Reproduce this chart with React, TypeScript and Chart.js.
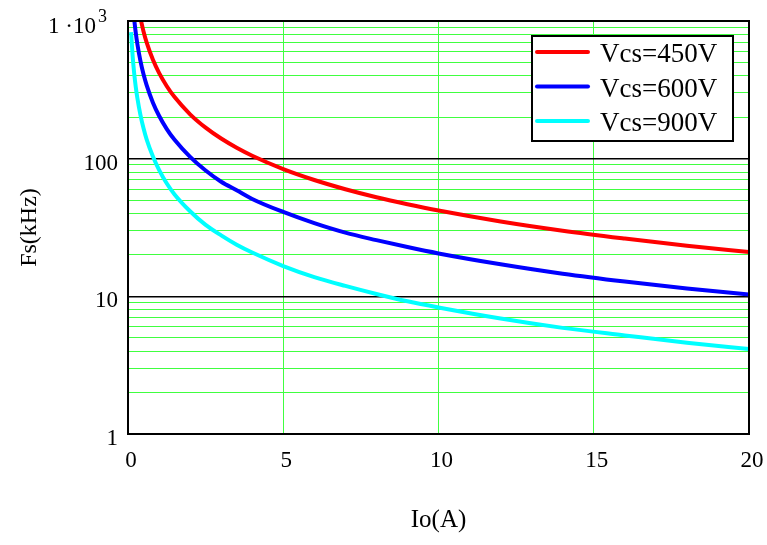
import React, { useEffect, useRef } from 'react';
import { Chart, registerables } from 'chart.js';

Chart.register(...registerables);

// Output current Io (A)
const ioValues = [0.1, 0.15, 0.2, 0.25, 0.3, 0.4, 0.5, 0.6, 0.8, 1, 1.25, 1.5, 2, 2.5, 3, 3.5, 4, 5, 6, 7, 8, 9, 10, 12, 14, 16, 18, 20];
// Switching frequency Fs (kHz)
const fs450 = [null, null, null, null, null, 1050, 840, 700, 525, 420, 336, 280, 210, 168, 140, 120, 105, 84, 70, 60, 52.5, 46.7, 42, 35, 30, 26.3, 23.3, 21];
const fs600 = [null, null, 1025, 820, 683, 513, 410, 342, 256, 205, 164, 137, 103, 82, 68, 59, 51, 41, 34, 29, 25.6, 22.8, 20.5, 17.1, 14.6, 12.8, 11.4, 10.3];
const fs900 = [830, 553, 415, 332, 277, 208, 166, 138, 104, 83, 66, 55, 41.5, 33, 27.7, 23.7, 20.8, 16.6, 13.8, 11.9, 10.4, 9.2, 8.3, 6.9, 5.9, 5.2, 4.6, 4.15];

const seriesLabels = ['Vcs=450V', 'Vcs=600V', 'Vcs=900V'];
const seriesColors = ['#ff0000', '#0000ff', '#00ffff'];

const xTicks = [0, 5, 10, 15, 20];
const yDecades = [1, 10, 100, 1000];
const yTickLabels = ['1', '10', '100', ''];
const topLabelBase = '1 \u00b710';
const topLabelExp = '3';

const FONT = '"Liberation Serif", "Times New Roman", serif';
const GREEN = 'rgb(64,255,64)';

const borderPlugin = {
  id: 'frameBorder',
  afterDatasetsDraw(chart: any) {
    const { ctx, chartArea } = chart;
    ctx.save();
    ctx.strokeStyle = '#000';
    ctx.lineWidth = 2;
    ctx.strokeRect(chartArea.left, chartArea.top, chartArea.right - chartArea.left, chartArea.bottom - chartArea.top);
    ctx.restore();
  },
};

const topLabelPlugin = {
  id: 'topLabel',
  afterDraw(chart: any) {
    const { ctx } = chart;
    const yScale = chart.scales.y;
    const py = yScale.getPixelForValue(1000);
    const right = yScale.right - 21;
    ctx.save();
    ctx.fillStyle = '#000';
    ctx.textBaseline = 'alphabetic';
    ctx.textAlign = 'right';
    ctx.font = `18px ${FONT}`;
    const expW = ctx.measureText(topLabelExp).width;
    ctx.fillText(topLabelExp, right, py + 1);
    ctx.font = `23px ${FONT}`;
    ctx.fillText(topLabelBase, right - expW - 2, py + 12);
    ctx.restore();
  },
};

const legendPlugin = {
  id: 'boxLegend',
  afterDraw(chart: any) {
    const { ctx, chartArea } = chart;
    const w = 201;
    const h = 105;
    const x0 = chartArea.right - 16 - w;
    const y0 = chartArea.top + 15;
    ctx.save();
    ctx.fillStyle = '#fff';
    ctx.fillRect(x0, y0, w, h);
    ctx.strokeStyle = '#000';
    ctx.lineWidth = 2;
    ctx.strokeRect(x0, y0, w, h);
    chart.data.datasets.forEach((ds: any, i: number) => {
      const cy = y0 + 16 + i * 34.5;
      ctx.strokeStyle = ds.borderColor;
      ctx.lineWidth = 4;
      ctx.lineCap = 'round';
      ctx.beginPath();
      ctx.moveTo(x0 + 5, cy);
      ctx.lineTo(x0 + 56, cy);
      ctx.stroke();
      ctx.fillStyle = '#000';
      ctx.font = `27px ${FONT}`;
      ctx.textBaseline = 'alphabetic';
      ctx.textAlign = 'left';
      ctx.fillText(ds.label, x0 + 68, cy + 10);
    });
    ctx.restore();
  },
};

export default function App() {
  const ref = useRef<HTMLCanvasElement>(null);

  useEffect(() => {
    document.body.style.margin = '0';
    const series = [fs450, fs600, fs900];
    const chart = new Chart(ref.current as HTMLCanvasElement, {
      type: 'line',
      data: {
        datasets: series.map((vals, i) => ({
          label: seriesLabels[i],
          data: ioValues.map((x, j) => ({ x, y: vals[j] as any })),
          borderColor: seriesColors[i],
          backgroundColor: seriesColors[i],
          borderWidth: 4,
          pointRadius: 0,
          fill: false,
          cubicInterpolationMode: 'monotone',
          clip: 0,
        })),
      },
      options: {
        responsive: false,
        animation: false,
        layout: { padding: { top: 21, right: 18, left: 0, bottom: 0 } },
        plugins: {
          legend: { display: false },
          tooltip: { enabled: false },
        },
        scales: {
          x: {
            type: 'linear',
            min: 0,
            max: 20,
            afterBuildTicks: (s: any) => {
              s.ticks = xTicks.map((v) => ({ value: v }));
            },
            afterFit: (s: any) => {
              s.height = 111;
              s.paddingLeft = 0;
              s.paddingRight = 0;
            },
            ticks: {
              autoSkip: false,
              maxRotation: 0,
              padding: 13,
              labelOffset: 3,
              color: '#000',
              font: { family: FONT, size: 23 },
              callback: (v: any) => String(v),
            },
            grid: {
              drawTicks: false,
              lineWidth: 1,
              color: (c: any) => (c.tick && c.tick.value > 0 && c.tick.value < 20 ? GREEN : 'rgba(0,0,0,0)'),
            },
            border: { display: true, color: '#000', width: 2 },
            title: {
              display: true,
              text: 'Io(A)',
              color: '#000',
              font: { family: FONT, size: 25 },
              padding: { top: 0, bottom: 10 },
            },
          },
          y: {
            type: 'logarithmic',
            min: 1,
            max: 1000,
            afterBuildTicks: (s: any) => {
              const t: any[] = [];
              for (let d = 0; d < 3; d++) {
                for (let m = 1; m < 10; m++) t.push({ value: m * yDecades[d], major: m === 1 });
              }
              t.push({ value: 1000, major: true });
              s.ticks = t;
            },
            afterFit: (s: any) => {
              s.width = 128;
              s.paddingTop = 0;
              s.paddingBottom = 0;
            },
            ticks: {
              autoSkip: false,
              padding: 10,
              labelOffset: 5,
              color: '#000',
              font: { family: FONT, size: 23 },
              callback: (v: any) => {
                const idx = yDecades.indexOf(Number(v));
                return idx >= 0 ? yTickLabels[idx] : '';
              },
            },
            grid: {
              drawTicks: false,
              color: (c: any) => (c.tick && yDecades.includes(c.tick.value) ? '#000' : GREEN),
              lineWidth: (c: any) => (c.tick && yDecades.includes(c.tick.value) ? 1.5 : 1),
            },
            border: { display: true, color: '#000', width: 2 },
            title: {
              display: true,
              text: 'Fs(kHz)',
              color: '#000',
              font: { family: FONT, size: 24 },
              padding: { top: 15.6, bottom: 0 },
            },
          },
        },
      } as any,
      plugins: [borderPlugin, topLabelPlugin, legendPlugin],
    });
    return () => chart.destroy();
  }, []);

  return (
    <div style={{ width: 767, height: 545 }}>
      <canvas ref={ref} width={767} height={545} style={{ display: 'block' }} />
    </div>
  );
}
